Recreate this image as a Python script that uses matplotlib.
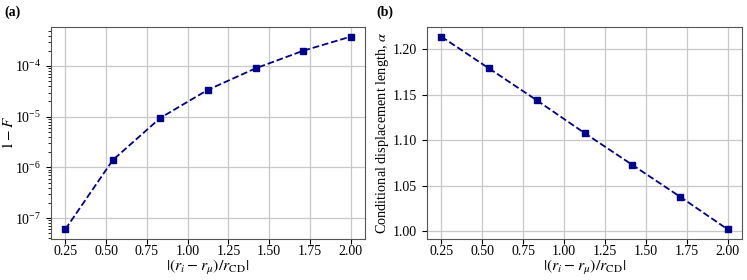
import matplotlib
matplotlib.use('Agg')
import matplotlib.pyplot as plt

plt.rcParams['font.family'] = ['Liberation Serif', 'DejaVu Serif']
plt.rcParams['mathtext.fontset'] = 'stix'
plt.rcParams['font.size'] = 10

# distancia normalizada
dist = [0.25, 0.5417, 0.8333, 1.125, 1.4167, 1.7083, 2.0]
# infidelidad 1-F
infid = [6.0e-8, 1.4e-6, 9.5e-6, 3.4e-5, 9.0e-5, 2.0e-4, 3.8e-4]
# longitud de desplazamiento condicional
alpha = [1.214, 1.179, 1.144, 1.108, 1.073, 1.038, 1.002]

xlab = r'$|(r_i - r_\mu)/r_{\mathrm{CD}}|$'
col = '#00008b'

fig = plt.figure(figsize=(7.47, 2.8), dpi=100)
ax1 = fig.add_axes([51/747, 1-239/280, 314/747, 212/280])
ax2 = fig.add_axes([427/747, 1-239/280, 315/747, 212/280])

ax1.plot(dist, infid, '--s', color=col, markersize=4.5, linewidth=1.3)
ax1.set_yscale('log')
ax1.set_ylabel(r'$1-F$', fontsize=11)
ax1.yaxis.set_label_coords(-0.11, 0.5)
ax1.grid(True, color='#c8c8c8', linewidth=0.9)

ax2.plot(dist, alpha, '--s', color=col, markersize=4.5, linewidth=1.3)
ax2.set_ylabel(r'Conditional displacement length, $\alpha$', fontsize=10.3)
ax2.yaxis.set_label_coords(-0.113, 0.5)
ax2.grid(True, color='#c8c8c8', linewidth=0.9)

for ax in (ax1, ax2):
    ax.set_xticks([0.25, 0.5, 0.75, 1.0, 1.25, 1.5, 1.75, 2.0])
    ax.set_xlabel(xlab, fontsize=11.5, va='center')
    ax.xaxis.set_label_coords(0.5, -0.135)
    ax.tick_params(labelsize=10)
    ax.tick_params(axis='x', pad=0.8)
    for s in ax.spines.values():
        s.set_color('#555555')

fig.text(4/747, 1-12/280, '(a)', fontsize=10, va='center', fontweight='bold')
fig.text(376/747, 1-12/280, '(b)', fontsize=10, va='center', fontweight='bold')

fig.savefig('out.png', dpi=100)
